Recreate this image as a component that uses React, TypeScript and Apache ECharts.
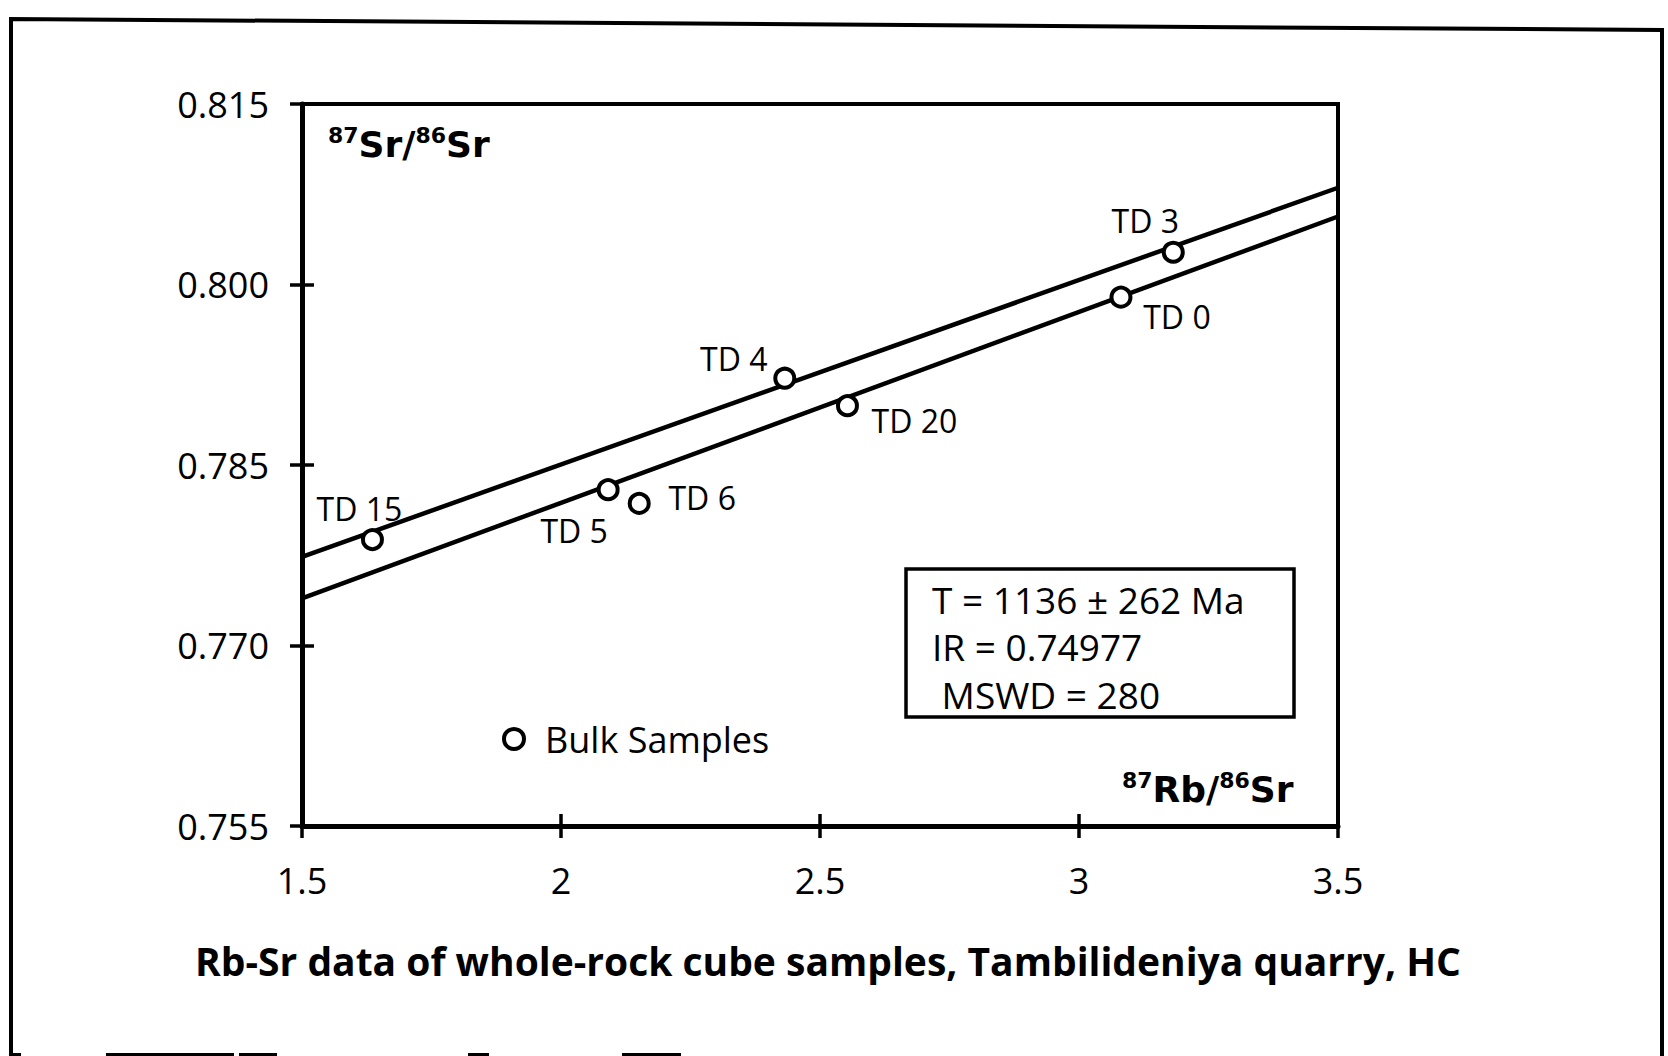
import React, { useEffect, useRef } from "react";
import * as echarts from "echarts";

// ---- data ----
const sampleNames = ["TD 15", "TD 5", "TD 6", "TD 4", "TD 20", "TD 0", "TD 3"];
const rbSrValues = [1.636, 2.091, 2.151, 2.432, 2.553, 3.081, 3.182];
const srSrValues = [0.7788, 0.78295, 0.78181, 0.79221, 0.78993, 0.79895, 0.80268];

const upperLineX = [1.5, 3.5];
const upperLineY = [0.77737, 0.80804];
const lowerLineX = [1.5, 3.5];
const lowerLineY = [0.77392, 0.80565];

const xMin = 1.5;
const xMax = 3.5;
const xStep = 0.5;
const yMin = 0.755;
const yMax = 0.815;
const yStep = 0.015;

const statsLines = ["T = 1136 ± 262 Ma", "IR = 0.74977", " MSWD = 280"];
const legendLabel = "Bulk Samples";
const captionText = "Rb-Sr data of whole-rock cube samples, Tambilideniya quarry, HC";

// label placement (style only), offsets in px from the marker centre
const labelOffsets: Record<string, [number, number]> = {
  "TD 15": [-13, -31],
  "TD 5": [-34, 41],
  "TD 6": [63, -6],
  "TD 4": [-51, -20],
  "TD 20": [67, 15],
  "TD 0": [56, 19],
  "TD 3": [-28, -32],
};

const FONT = "'Open Sans', 'Noto Sans', sans-serif";
const BOLD_FONT = "'DejaVu Sans', sans-serif";

// scan fragments along the cut bottom edge (decoration only)
const bottomFragments: [number, number][] = [
  [11, 10],
  [106, 128],
  [239, 38],
  [468, 21],
  [622, 59],
];

export default function App() {
  const ref = useRef<HTMLDivElement>(null);

  useEffect(() => {
    document.body.style.margin = "0";
    if (!ref.current) return;
    const chart = echarts.init(ref.current, undefined, { renderer: "svg" });

    const points = sampleNames.map((name, i) => ({
      name,
      value: [rbSrValues[i], srSrValues[i]],
      label: {
        show: true,
        position: "inside",
        offset: labelOffsets[name] || [0, 0],
        formatter: "{b}",
        color: "#000",
        fontFamily: FONT,
        fontSize: 32,
      },
    }));

    const axisCommonX = {
      type: "value",
      min: xMin,
      max: xMax,
      interval: xStep,
      splitLine: { show: false },
    };
    const axisCommonY = {
      type: "value",
      min: yMin,
      max: yMax,
      interval: yStep,
      splitLine: { show: false },
    };

    const supRich = {
      main: { fontFamily: BOLD_FONT, fontWeight: "bold", fontSize: 36, color: "#000", lineHeight: 40 },
      sup: { fontFamily: BOLD_FONT, fontWeight: "bold", fontSize: 22, color: "#000", lineHeight: 40, verticalAlign: "top" },
    };

    chart.setOption({
      animation: false,
      backgroundColor: "#fff",
      grid: {
        left: 302,
        right: 330,
        top: 104,
        bottom: 230,
        show: true,
        borderColor: "#000",
        borderWidth: 4,
        backgroundColor: "transparent",
      },
      xAxis: [
        {
          ...axisCommonX,
          position: "bottom",
          axisLine: { show: true, onZero: false, lineStyle: { color: "#000", width: 5 } },
          axisTick: { show: true, inside: false, length: 12, lineStyle: { color: "#000", width: 3.5 } },
          axisLabel: {
            show: true,
            margin: 36,
            color: "#000",
            fontFamily: FONT,
            fontSize: 36,
            lineHeight: 36,
            formatter: (v: number) => String(v),
          },
        },
        {
          ...axisCommonX,
          position: "bottom",
          axisLine: { show: false },
          axisTick: { show: true, inside: true, length: 12, lineStyle: { color: "#000", width: 3.5 } },
          axisLabel: { show: false },
        },
      ],
      yAxis: [
        {
          ...axisCommonY,
          position: "left",
          axisLine: { show: true, onZero: false, lineStyle: { color: "#000", width: 5 } },
          axisTick: { show: true, inside: false, length: 12, lineStyle: { color: "#000", width: 3.5 } },
          axisLabel: {
            show: true,
            margin: 33,
            color: "#000",
            fontFamily: FONT,
            fontSize: 36,
            formatter: (v: number) => v.toFixed(3),
          },
        },
        {
          ...axisCommonY,
          position: "left",
          axisLine: { show: false },
          axisTick: { show: true, inside: true, length: 12, lineStyle: { color: "#000", width: 3.5 } },
          axisLabel: { show: false },
        },
      ],
      series: [
        {
          type: "line",
          xAxisIndex: 0,
          yAxisIndex: 0,
          data: upperLineX.map((x, i) => [x, upperLineY[i]]),
          symbol: "none",
          lineStyle: { color: "#000", width: 4.5 },
          z: 2,
        },
        {
          type: "line",
          xAxisIndex: 0,
          yAxisIndex: 0,
          data: lowerLineX.map((x, i) => [x, lowerLineY[i]]),
          symbol: "none",
          lineStyle: { color: "#000", width: 4.5 },
          z: 2,
        },
        {
          type: "scatter",
          name: legendLabel,
          xAxisIndex: 0,
          yAxisIndex: 0,
          data: points,
          symbol: "circle",
          symbolSize: 19,
          itemStyle: { color: "#fff", borderColor: "#000", borderWidth: 4, opacity: 1 },
          z: 3,
        },
      ],
      graphic: [
        {
          type: "polyline",
          shape: { points: [[11, 1056], [11, 19], [1662, 30], [1662, 1056]] },
          style: { stroke: "#000", lineWidth: 4, fill: "none" },
        },
        ...bottomFragments.map(([x, w]) => ({
          type: "rect",
          shape: { x, y: 1053, width: w, height: 3 },
          style: { fill: "#000" },
        })),
        {
          type: "text",
          left: 328,
          top: 124,
          style: {
            text: "{sup|87}{main|Sr/}{sup|86}{main|Sr}",
            rich: supRich,
          },
        },
        {
          type: "text",
          left: 1122,
          top: 769,
          style: {
            text: "{sup|87}{main|Rb/}{sup|86}{main|Sr}",
            rich: supRich,
          },
        },
        {
          type: "circle",
          shape: { cx: 514, cy: 739, r: 10 },
          style: { fill: "#fff", stroke: "#000", lineWidth: 4 },
        },
        {
          type: "text",
          x: 545,
          y: 739,
          style: {
            text: legendLabel,
            fontFamily: FONT,
            fontSize: 36,
            fill: "#000",
            verticalAlign: "middle",
            align: "left",
          },
        },
        {
          type: "rect",
          shape: { x: 906, y: 569, width: 388, height: 148 },
          style: { fill: "#fff", stroke: "#000", lineWidth: 3.5 },
        },
        ...statsLines.map((t, i) => ({
          type: "text",
          x: 932,
          y: [599, 646, 694][i],
          style: {
            text: t,
            fontFamily: FONT,
            fontSize: 37,
            fill: "#000",
            verticalAlign: "middle",
            align: "left",
          },
        })),
        {
          type: "text",
          x: 828,
          y: 960,
          style: {
            text: captionText,
            fontFamily: FONT,
            fontWeight: "bold",
            fontSize: 39,
            fill: "#000",
            verticalAlign: "middle",
            align: "center",
          },
        },
      ],
    });

    return () => chart.dispose();
  }, []);

  return (
    <div
      ref={ref}
      style={{ position: "fixed", left: 0, top: 0, width: 1668, height: 1056, background: "#fff" }}
    />
  );
}
